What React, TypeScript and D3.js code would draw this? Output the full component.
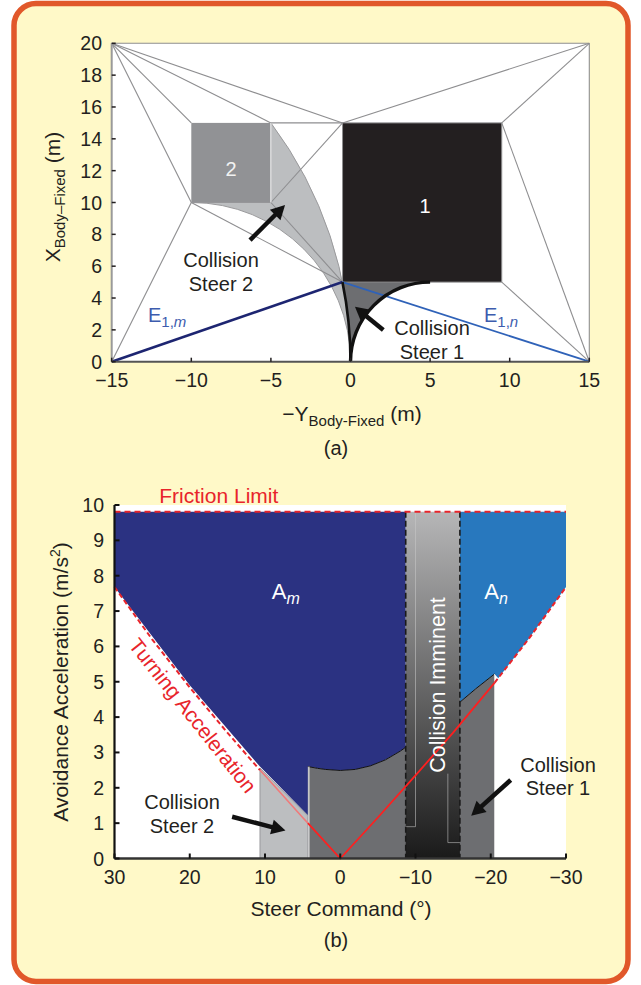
import React from "react";
import * as d3 from "d3";

const W = 641;
const H = 985;
const FONT = "'Liberation Sans', Arial, Helvetica, sans-serif";

// ---------- (a) obstacle field, body-fixed frame (m) ----------
const aTicksX = [-15, -10, -5, 0, 5, 10, 15];
const aTicksY = [0, 2, 4, 6, 8, 10, 12, 14, 16, 18, 20];
const obstacle1 = { x: [-0.5, 9.5], y: [5, 15] };
const obstacle2 = { x: [-10, -5], y: [10, 15] };
// straight envelope edges: field corners <-> obstacle corners
const envelopeEdges = [
  [-15, 20, 15, 20],
  [15, 20, 15, 0],
  [-15, 20, -10, 15],
  [-15, 20, -5, 15],
  [-15, 20, -0.5, 15],
  [-15, 20, -10, 10],
  [15, 20, -0.5, 15],
  [15, 20, 9.5, 15],
  [-15, 0, -10, 10],
  [15, 0, 9.5, 15],
  [15, 0, 9.5, 5],
  [-5, 15, -0.5, 15],
  [-5, 10, -0.5, 15],
  [-10, 10, -0.5, 5],
  [-5, 10, -0.5, 5],
];
const edgeE1m = [[-15, 0], [-0.5, 5]];
const edgeE1n = [[-0.5, 5], [15, 0]];
// radii (m) of the constant-steer paths bounding the collision fans
const steer2Radii = [10, 25];
const steer1Radius = 5;

// ---------- (b) avoidance acceleration vs steer command ----------
const bTicksX = [30, 20, 10, 0, -10, -20, -30];
const bTicksY = [0, 1, 2, 3, 4, 5, 6, 7, 8, 9, 10];
const frictionLimit = 9.81;
const turnSteer = [30, 25, 20, 15, 10.67, 10, 5, 4.3, 0, -5, -10, -15, -20, -20.5, -25, -30];
const turnAccel = [7.68, 6.2, 4.84, 3.56, 2.5, 2.35, 1.16, 1.0, 0, 1.16, 2.35, 3.56, 4.84, 4.97, 6.2, 7.68];
const steer1Steer = [4.3, 3, 2, 0, -2, -4, -6, -8, -10, -12, -14, -16, -18, -20.5];
const steer1Accel = [2.6, 2.55, 2.52, 2.49, 2.52, 2.62, 2.79, 3.04, 3.35, 3.7, 4.06, 4.44, 4.8, 5.22];
const steer2Steer = [10.67, 4.3];
const steer2Top = [2.56, 1.2];
const imminentSteer = [-8.7, -15.9];
const amEdgeSteer = [30, 20, 10.67, 4.3];
const amEdgeAccel = [7.68, 4.9, 2.6, 1.22];
const anEdgeSteer = [-20.5, -21, -25, -30];
const anEdgeAccel = [5.22, 5.1, 6.2, 7.68];
const imminentTraces = [
  [[-10, 9.81], [-10, 0.9], [-8.7, 0.9]],
  [[-14.3, 2.4], [-14.3, 0.45], [-15.9, 0.45]],
];

// scales
const xA = d3.scaleLinear().domain([-15, 15]).range([111.7, 589.3]);
const kA = (589.3 - 111.7) / 30;
const yA = d3.scaleLinear().domain([0, 20]).range([361.7, 361.7 - 20 * kA]);

const xB = d3.scaleLinear().domain([30, -30]).range([114.5, 566]);
const yB = d3.scaleLinear().domain([0, 10]).range([858.5, 505]);

const curveAt = d3.scaleLinear().domain(steer1Steer).range(steer1Accel);
const lineB = d3
  .line<number[]>()
  .x(d => xB(d[0]))
  .y(d => yB(d[1]));

// angle (svg convention) of data point p seen from data centre c
const ang = (c: number[], p: number[]) => Math.atan2(-(p[1] - c[1]), p[0] - c[0]);

function steer2Region() {
  const [rIn, rOut] = steer2Radii;
  const cOut = [-rOut, 0];
  const cIn = [-rIn, 0];
  const p = d3.path();
  p.moveTo(xA(0), yA(0));
  p.arc(xA(cOut[0]), yA(0), rOut * kA, 0, ang(cOut, [obstacle2.x[1], obstacle2.y[1]]), true);
  p.lineTo(xA(obstacle2.x[1]), yA(obstacle2.y[0]));
  p.lineTo(xA(obstacle2.x[0]), yA(obstacle2.y[0]));
  p.arc(xA(cIn[0]), yA(0), rIn * kA, ang(cIn, [obstacle2.x[0], obstacle2.y[0]]), 0, false);
  p.closePath();
  return p.toString();
}

function outerArcToObstacle1() {
  const rOut = steer2Radii[1];
  const c = [-rOut, 0];
  const p = d3.path();
  p.moveTo(xA(0), yA(0));
  p.arc(xA(c[0]), yA(0), rOut * kA, 0, ang(c, [obstacle1.x[0], obstacle1.y[0]]), true);
  return p;
}

function steer1Region() {
  const p = outerArcToObstacle1();
  p.lineTo(xA(steer1Radius), yA(obstacle1.y[0]));
  p.arc(xA(steer1Radius), yA(0), steer1Radius * kA, -Math.PI / 2, -Math.PI, true);
  p.closePath();
  return p.toString();
}

function steer1Arc() {
  const p = d3.path();
  p.moveTo(xA(0), yA(0));
  p.arc(xA(steer1Radius), yA(0), steer1Radius * kA, -Math.PI, -Math.PI / 2, false);
  return p.toString();
}

function Arrow({ from, to, w = 4.5 }: { from: number[]; to: number[]; w?: number }) {
  const [x1, y1] = from;
  const [x2, y2] = to;
  const a = Math.atan2(y2 - y1, x2 - x1);
  const hl = 14;
  const hw = 7.5;
  const bx = x2 - hl * Math.cos(a);
  const by = y2 - hl * Math.sin(a);
  const nx = -Math.sin(a) * hw;
  const ny = Math.cos(a) * hw;
  return (
    <g>
      <line x1={x1} y1={y1} x2={bx + Math.cos(a) * 2} y2={by + Math.sin(a) * 2} stroke="#111" strokeWidth={w} />
      <polygon points={`${x2},${y2} ${bx + nx},${by + ny} ${bx - nx},${by - ny}`} fill="#111" />
    </g>
  );
}

function PanelA() {
  const tickColor = "#231f20";
  return (
    <g>
      <rect x={xA(-15)} y={yA(20)} width={xA(15) - xA(-15)} height={yA(0) - yA(20)} fill="#fff" />
      <path d={steer2Region()} fill="#bcbec0" stroke="#9a9a9c" strokeWidth={1} />
      <path d={steer1Region()} fill="#6d6e71" />
      {envelopeEdges.map((e, i) => (
        <line key={i} x1={xA(e[0])} y1={yA(e[1])} x2={xA(e[2])} y2={yA(e[3])} stroke="#8e8e90" strokeWidth={1.1} />
      ))}
      <rect
        x={xA(obstacle2.x[0])}
        y={yA(obstacle2.y[1])}
        width={xA(obstacle2.x[1]) - xA(obstacle2.x[0])}
        height={yA(obstacle2.y[0]) - yA(obstacle2.y[1])}
        fill="#919295"
      />
      <line x1={xA(obstacle2.x[1])} y1={yA(obstacle2.y[0])} x2={xA(obstacle2.x[1])} y2={yA(obstacle2.y[1])} stroke="#fff" strokeWidth={1} />
      <rect
        x={xA(obstacle1.x[0])}
        y={yA(obstacle1.y[1])}
        width={xA(obstacle1.x[1]) - xA(obstacle1.x[0])}
        height={yA(obstacle1.y[0]) - yA(obstacle1.y[1])}
        fill="#231f20"
        stroke="#8e8e90"
        strokeWidth={1}
      />
      <line x1={xA(edgeE1m[0][0])} y1={yA(edgeE1m[0][1])} x2={xA(edgeE1m[1][0])} y2={yA(edgeE1m[1][1])} stroke="#1d2571" strokeWidth={2.6} />
      <line x1={xA(edgeE1n[0][0])} y1={yA(edgeE1n[0][1])} x2={xA(edgeE1n[1][0])} y2={yA(edgeE1n[1][1])} stroke="#2f62b8" strokeWidth={1.8} />
      <path d={outerArcToObstacle1().toString()} fill="none" stroke="#111" strokeWidth={2.6} />
      <path d={steer1Arc()} fill="none" stroke="#111" strokeWidth={3.4} />

      {/* axes */}
      <line x1={xA(-15)} y1={yA(0)} x2={xA(-15)} y2={yA(20)} stroke="#9a9a9a" strokeWidth={2} />
      <line x1={xA(-15)} y1={yA(0)} x2={xA(15)} y2={yA(0)} stroke="#555" strokeWidth={2} />
      {aTicksY.map(t => (
        <g key={t}>
          <line x1={xA(-15)} x2={xA(-15) + 4} y1={yA(t)} y2={yA(t)} stroke={tickColor} strokeWidth={1.5} />
          <text x={102} y={yA(t) + 7} textAnchor="end" fontSize={19.5} fill={tickColor}>
            {t}
          </text>
        </g>
      ))}
      {aTicksX.map(t => (
        <g key={t}>
          <line x1={xA(t)} x2={xA(t)} y1={yA(0)} y2={yA(0) - 4} stroke={tickColor} strokeWidth={1.5} />
          <text x={xA(t)} y={387} textAnchor="middle" fontSize={19.5} fill={tickColor}>
            {t < 0 ? `\u2212${-t}` : t}
          </text>
        </g>
      ))}
      <text x={352} y={420.5} textAnchor="middle" fontSize={21} fill={tickColor}>
        {"\u2212Y"}
        <tspan fontSize={15} dy={5}>Body-Fixed</tspan>
        <tspan dy={-5}> (m)</tspan>
      </text>
      <text transform="translate(60,197) rotate(-90)" textAnchor="middle" fontSize={21} fill={tickColor}>
        X<tspan fontSize={15} dy={5}>Body–Fixed</tspan>
        <tspan dy={-5}> (m)</tspan>
      </text>
      <text x={336} y={455} textAnchor="middle" fontSize={20} fill={tickColor}>
        (a)
      </text>

      {/* labels */}
      <text x={231} y={176} textAnchor="middle" fontSize={20} fill="#f2f2f2">
        2
      </text>
      <text x={425} y={213} textAnchor="middle" fontSize={20} fill="#fff">
        1
      </text>
      <text x={148} y={322} fontSize={20} fill="#3d5cae">
        E<tspan fontSize={15} dy={5}>1,</tspan>
        <tspan fontSize={15} fontStyle="italic">m</tspan>
      </text>
      <text x={484} y={322} fontSize={20} fill="#3d5cae">
        E<tspan fontSize={15} dy={5}>1,</tspan>
        <tspan fontSize={15} fontStyle="italic">n</tspan>
      </text>
      <text textAnchor="middle" fontSize={20} fill={tickColor}>
        <tspan x={221} y={267}>Collision</tspan>
        <tspan x={221} y={291}>Steer 2</tspan>
      </text>
      <text textAnchor="middle" fontSize={20} fill={tickColor}>
        <tspan x={432} y={335}>Collision</tspan>
        <tspan x={432} y={359}>Steer 1</tspan>
      </text>
      <Arrow from={[xA(-6.31), yA(7.64)]} to={[xA(-4.11), yA(9.84)]} />
      <Arrow from={[xA(2.06), yA(1.99)]} to={[xA(0.28), yA(3.45)]} />
    </g>
  );
}

function PanelB() {
  const tickColor = "#231f20";
  const red = "#e8242b";
  const curvePts = steer1Steer.map((s, i) => [s, steer1Accel[i]]);
  const darkPoly = [[steer1Steer[0], 0], ...curvePts, [steer1Steer[steer1Steer.length - 1], 0]];
  const lightPoly = [
    [steer2Steer[0], 0],
    [steer2Steer[0], steer2Top[0]],
    [steer2Steer[1], steer2Top[1]],
    [steer2Steer[1], 0],
  ];
  const amPoly = [
    [30, frictionLimit],
    [imminentSteer[0], frictionLimit],
    [imminentSteer[0], curveAt(imminentSteer[0])],
    ...curvePts.filter(p => p[0] > imminentSteer[0]).reverse(),
    ...amEdgeSteer.map((s, i) => [s, amEdgeAccel[i]]).reverse(),
  ];
  const anPoly = [
    [imminentSteer[1], frictionLimit],
    [-30, frictionLimit],
    ...anEdgeSteer.map((s, i) => [s, anEdgeAccel[i]]).reverse(),
    ...curvePts.filter(p => p[0] > anEdgeSteer[0] && p[0] < imminentSteer[1]).reverse(),
    [imminentSteer[1], curveAt(imminentSteer[1])],
  ];
  const turnPts = turnSteer.map((s, i) => [s, turnAccel[i]]);
  const hiStart = steer2Steer[0];
  const hiEnd = anEdgeSteer[0];
  const turnLeft = turnPts.filter(p => p[0] >= hiStart);
  const turnRight = turnPts.filter(p => p[0] <= hiEnd);
  const turnPale = turnPts.filter(p => p[0] <= hiStart && p[0] >= steer2Steer[1]);
  const turnMid = turnPts.filter(p => p[0] <= steer2Steer[1] && p[0] >= hiEnd);
  const ix0 = xB(imminentSteer[0]);
  const ix1 = xB(imminentSteer[1]);
  return (
    <g>
      <defs>
        <linearGradient id="imm" x1="0" y1="0" x2="0" y2="1">
          <stop offset="0" stopColor="#b6b6b7" />
          <stop offset="1" stopColor="#1a1a1a" />
        </linearGradient>
      </defs>
      <rect x={xB(30)} y={yB(10)} width={xB(-30) - xB(30)} height={yB(0) - yB(10)} fill="#fff" />
      <path d={lineB(amPoly) + "Z"} fill="#2b3282" />
      <path d={lineB(anPoly) + "Z"} fill="#2878be" />
      <path d={lineB(darkPoly) + "Z"} fill="#6d6e71" />
      <path d={lineB(curvePts)!} fill="none" stroke="#111" strokeWidth={1} />
      <path d={lineB(lightPoly) + "Z"} fill="#bcbec0" stroke="#8e8e90" strokeWidth={0.8} />
      <line x1={xB(steer2Steer[1]) + 1} x2={xB(steer2Steer[1]) + 1} y1={yB(0)} y2={yB(steer1Accel[0])} stroke="#fff" strokeWidth={1} />
      <line x1={xB(hiEnd)} x2={xB(hiEnd)} y1={yB(0)} y2={yB(anEdgeAccel[0])} stroke="#d8d8d8" strokeWidth={1} />
      <rect x={ix0} y={yB(frictionLimit)} width={ix1 - ix0} height={yB(0) - yB(frictionLimit)} fill="url(#imm)" />
      {imminentTraces.map((t, i) => (
        <path key={i} d={lineB(t)!} fill="none" stroke="#c8c8c8" strokeOpacity={0.55} strokeWidth={1} />
      ))}
      <line x1={ix0} x2={ix0} y1={yB(frictionLimit)} y2={yB(0)} stroke="#1a1a1a" strokeWidth={1.6} strokeDasharray="6 3" />
      <line x1={ix1} x2={ix1} y1={yB(frictionLimit)} y2={yB(0)} stroke="#1a1a1a" strokeWidth={1.6} strokeDasharray="6 3" />

      {/* turning and friction limits */}
      <path d={lineB(turnLeft)!} fill="none" stroke={red} strokeWidth={2} strokeDasharray="5 3" />
      <path d={lineB(turnRight)!} fill="none" stroke={red} strokeWidth={2} strokeDasharray="5 3" />
      <path d={lineB(turnPale)!} fill="none" stroke="#f07a7a" strokeWidth={1.6} />
      <path d={lineB(turnMid)!} fill="none" stroke="#ff1f1f" strokeWidth={1.8} />
      <line x1={xB(30)} x2={xB(-30)} y1={yB(frictionLimit)} y2={yB(frictionLimit)} stroke={red} strokeWidth={2} strokeDasharray="6 4" />

      {/* axes */}
      <line x1={xB(30)} x2={xB(30)} y1={yB(0)} y2={yB(10)} stroke="#111" strokeWidth={2.2} />
      <line x1={xB(30)} x2={xB(-30)} y1={yB(0)} y2={yB(0)} stroke="#333" strokeWidth={2.6} />
      {bTicksY.map(t => (
        <g key={t}>
          <line x1={xB(30)} x2={xB(30) + 5} y1={yB(t)} y2={yB(t)} stroke="#111" strokeWidth={2} />
          <text x={104} y={yB(t) + 7} textAnchor="end" fontSize={19.5} fill={tickColor}>
            {t}
          </text>
        </g>
      ))}
      {bTicksX.map(t => (
        <g key={t}>
          <line x1={xB(t)} x2={xB(t)} y1={yB(0)} y2={yB(0) - 5} stroke="#111" strokeWidth={2} />
          <text x={xB(t)} y={884} textAnchor="middle" fontSize={19.5} fill={tickColor}>
            {t < 0 ? `\u2212${-t}` : t}
          </text>
        </g>
      ))}
      <text x={341} y={916} textAnchor="middle" fontSize={21} fill={tickColor}>
        Steer Command (°)
      </text>
      <text transform="translate(68,682) rotate(-90)" textAnchor="middle" fontSize={21} fill={tickColor}>
        Avoidance Acceleration (m/s<tspan fontSize={14} dy={-8}>2</tspan>
        <tspan dy={8}>)</tspan>
      </text>
      <text x={336} y={947} textAnchor="middle" fontSize={20} fill={tickColor}>
        (b)
      </text>

      {/* labels */}
      <text x={159.3} y={502.7} fontSize={21} fill={red}>
        Friction Limit
      </text>
      <text transform="translate(187,720) rotate(51.5)" textAnchor="middle" fontSize={21} fill={red}>
        Turning Acceleration
      </text>
      <text x={271.7} y={599} fontSize={22} fill="#fff">
        A<tspan fontSize={16} dy={5} fontStyle="italic">m</tspan>
      </text>
      <text x={484.3} y={599} fontSize={22} fill="#fff">
        A<tspan fontSize={16} dy={5} fontStyle="italic">n</tspan>
      </text>
      <text transform="translate(445,685) rotate(-90)" textAnchor="middle" fontSize={21.5} fill="#fff">
        Collision Imminent
      </text>
      <text textAnchor="middle" fontSize={20} fill={tickColor}>
        <tspan x={182} y={809}>Collision</tspan>
        <tspan x={182} y={833}>Steer 2</tspan>
      </text>
      <text textAnchor="middle" fontSize={20} fill={tickColor}>
        <tspan x={558} y={771.7}>Collision</tspan>
        <tspan x={558} y={795}>Steer 1</tspan>
      </text>
      <Arrow from={[xB(14.37), yB(1.18)]} to={[xB(7.28), yB(0.79)]} />
      <Arrow from={[xB(-22.65), yB(2.22)]} to={[xB(-17.4), yB(1.21)]} />
    </g>
  );
}

export default function App() {
  return (
    <div style={{ position: "absolute", left: 0, top: 0 }}>
      <svg width={W} height={H} style={{ display: "block", fontFamily: FONT }}>
        <rect x={0} y={0} width={W} height={H} fill="#fff" />
        <rect x={14} y={3.5} width={614} height={978} rx={22} fill="#fff9c8" stroke="#e1582a" strokeWidth={5.5} />
        <PanelA />
        <PanelB />
      </svg>
    </div>
  );
}
